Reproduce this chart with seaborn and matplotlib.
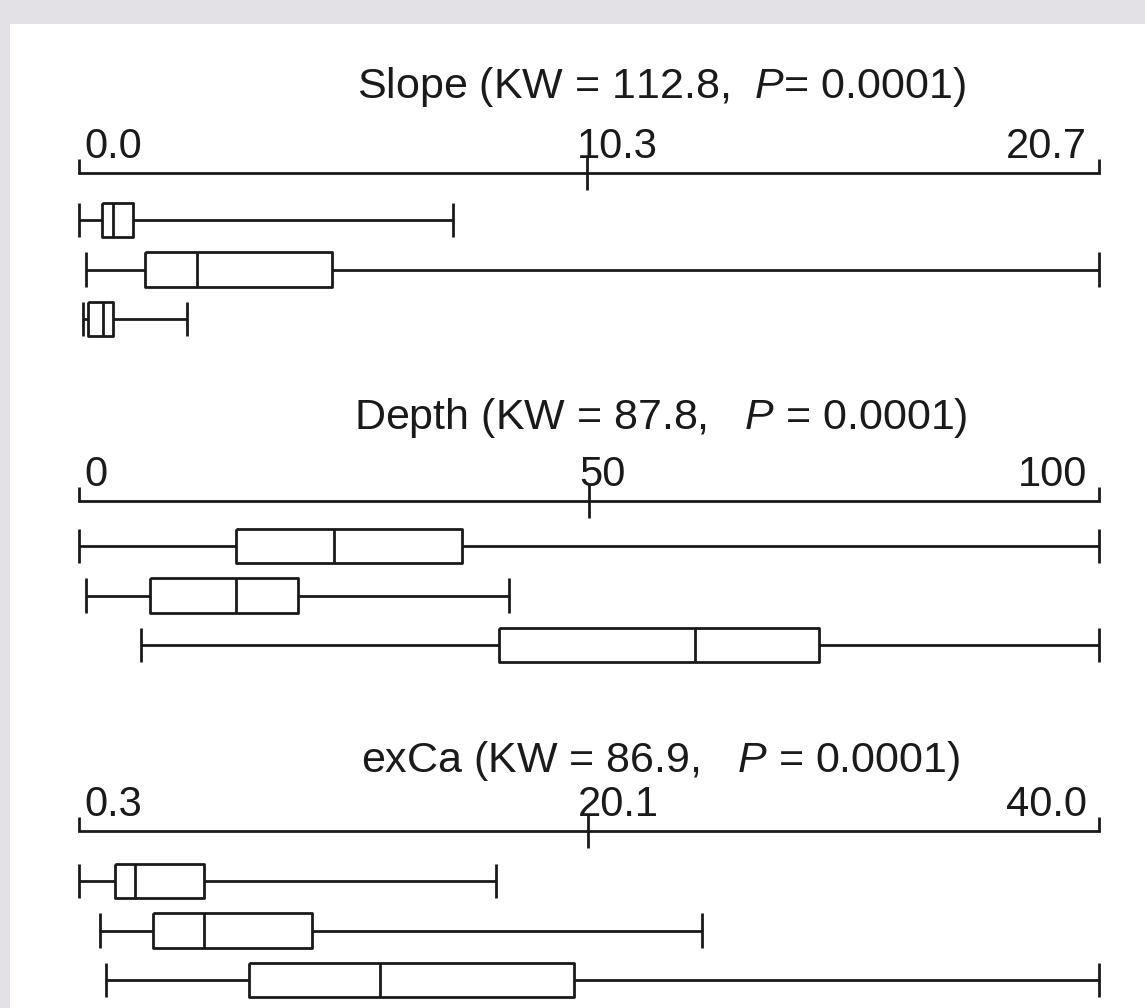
import numpy as np
import pandas as pd
import matplotlib
matplotlib.use("Agg")
import matplotlib.pyplot as plt
import matplotlib.transforms as mtransforms
from matplotlib.patches import Rectangle
import seaborn as sns

# Five-number summaries (3 groups per variable)
groups = ["G1", "G2", "G3"]

slope_min = [0.0, 0.14, 0.08]
slope_q1 = [0.47, 1.34, 0.18]
slope_med = [0.69, 2.39, 0.49]
slope_q3 = [1.10, 5.13, 0.69]
slope_max = [7.60, 20.7, 2.19]

depth_min = [0.0, 0.7, 6.1]
depth_q1 = [15.4, 7.0, 41.2]
depth_med = [25.0, 15.4, 60.4]
depth_q3 = [37.5, 21.5, 72.5]
depth_max = [100.0, 42.2, 100.0]

exca_min = [0.3, 1.12, 1.35]
exca_q1 = [1.70, 3.18, 6.92]
exca_med = [2.48, 5.17, 12.02]
exca_q3 = [5.17, 9.37, 19.57]
exca_max = [16.53, 24.55, 40.0]

titles = [
    "Slope (KW = 112.8,  $\\it{P}$= 0.0001)",
    "Depth (KW = 87.8,   $\\it{P}$ = 0.0001)",
    "exCa (KW = 86.9,   $\\it{P}$ = 0.0001)",
]
axis_ticks = [[0.0, 10.3, 20.7], [0, 50, 100], [0.3, 20.1, 40.0]]
axis_labels = [["0.0", "10.3", "20.7"], ["0", "50", "100"], ["0.3", "20.1", "40.0"]]

summaries = [
    (slope_min, slope_q1, slope_med, slope_q3, slope_max),
    (depth_min, depth_q1, depth_med, depth_q3, depth_max),
    (exca_min, exca_q1, exca_med, exca_q3, exca_max),
]

plt.rcParams["font.family"] = ["Liberation Sans", "DejaVu Sans"]
plt.rcParams["mathtext.fontset"] = "custom"
plt.rcParams["mathtext.it"] = "Liberation Sans:italic"
plt.rcParams["mathtext.rm"] = "Liberation Sans"

W, H = 1145, 1008
fig = plt.figure(figsize=(W / 100, H / 100), dpi=100, facecolor="#e4e1e6")
fig.patches.append(Rectangle((10 / W, 0), 1 - 10 / W, 1 - 24 / H,
                             transform=fig.transFigure, facecolor="white",
                             edgecolor="none", zorder=-5))

ink = "#1a1a1a"
lw = 2.0
fs_title = 31
fs_tick = 30

# layout in pixels: axis line y, first row y, row spacing, title y
axis_y = [173, 501, 831]
row0_y = [220, 546, 881]
row_gap = 49.5
title_y = [87, 418, 761]
x_left, x_right = 79, 1099

for i in range(3):
    mins, q1s, meds, q3s, maxs = summaries[i]
    rows = []
    for g, a, b, c, d, e in zip(groups, mins, q1s, meds, q3s, maxs):
        for v in (a, b, c, d, e):
            rows.append({"group": g, "value": v})
    df = pd.DataFrame(rows)

    top_px = axis_y[i]
    bottom_px = row0_y[i] + 2 * row_gap + row_gap / 2
    ax = fig.add_axes([x_left / W, 1 - bottom_px / H,
                       (x_right - x_left) / W, (bottom_px - top_px) / H])
    ax.set_facecolor("none")

    sns.boxplot(data=df, x="value", y="group", order=groups, orient="h",
                whis=(0, 100), fill=False, color=ink, linewidth=lw,
                width=0.69, ax=ax)

    # make whisker caps as tall as the boxes
    for line in ax.lines:
        xd, yd = line.get_xdata(), line.get_ydata()
        if len(xd) == 2 and np.allclose(xd[0], xd[1]) and not np.allclose(yd[0], yd[1]):
            c = np.mean(yd)
            half = abs(yd[1] - yd[0]) / 2
            if half < 0.3:
                line.set_ydata([c - 0.345, c + 0.345])
        line.set_clip_on(False)
        line.set_solid_capstyle("butt")
    for p in ax.patches:
        p.set_clip_on(False)
        p.set_joinstyle("round")

    lo, hi = axis_ticks[i][0], axis_ticks[i][2]
    ax.set_xlim(lo, hi)
    ax.set_ylim(2.5, -(row0_y[i] - top_px) / row_gap)

    for s in ["left", "right", "bottom"]:
        ax.spines[s].set_visible(False)
    ax.spines["top"].set_linewidth(lw)
    ax.spines["top"].set_color(ink)
    ax.set_yticks([])
    ax.set_ylabel("")
    ax.set_xlabel("")

    ax.xaxis.set_ticks_position("top")
    ax.set_xticks([lo, hi])
    ax.set_xticks([axis_ticks[i][1]], minor=True)
    ax.tick_params(axis="x", which="major", direction="out", length=10,
                   width=lw, color=ink, labeltop=False, labelbottom=False)
    ax.tick_params(axis="x", which="minor", direction="inout", length=24,
                   width=lw, color=ink, labeltop=False, labelbottom=False)

    # tick labels sitting just above the axis line
    base = mtransforms.blended_transform_factory(ax.transData, ax.transAxes)
    offsets = [(5, 6), (-10, 6), (-12, 6)]
    aligns = ["left", "left", "right"]
    for v, lab, (dx, dy), ha in zip(axis_ticks[i], axis_labels[i], offsets, aligns):
        tr = base + mtransforms.ScaledTranslation(dx / 100, dy / 100, fig.dpi_scale_trans)
        ax.text(v, 1, lab, transform=tr, ha=ha, va="bottom",
                fontsize=fs_tick, color=ink)

    fig.text(661 / W, 1 - title_y[i] / H, titles[i], ha="center",
             va="center", fontsize=fs_title, color=ink)

plt.savefig("out.png", dpi=100, facecolor=fig.get_facecolor())
